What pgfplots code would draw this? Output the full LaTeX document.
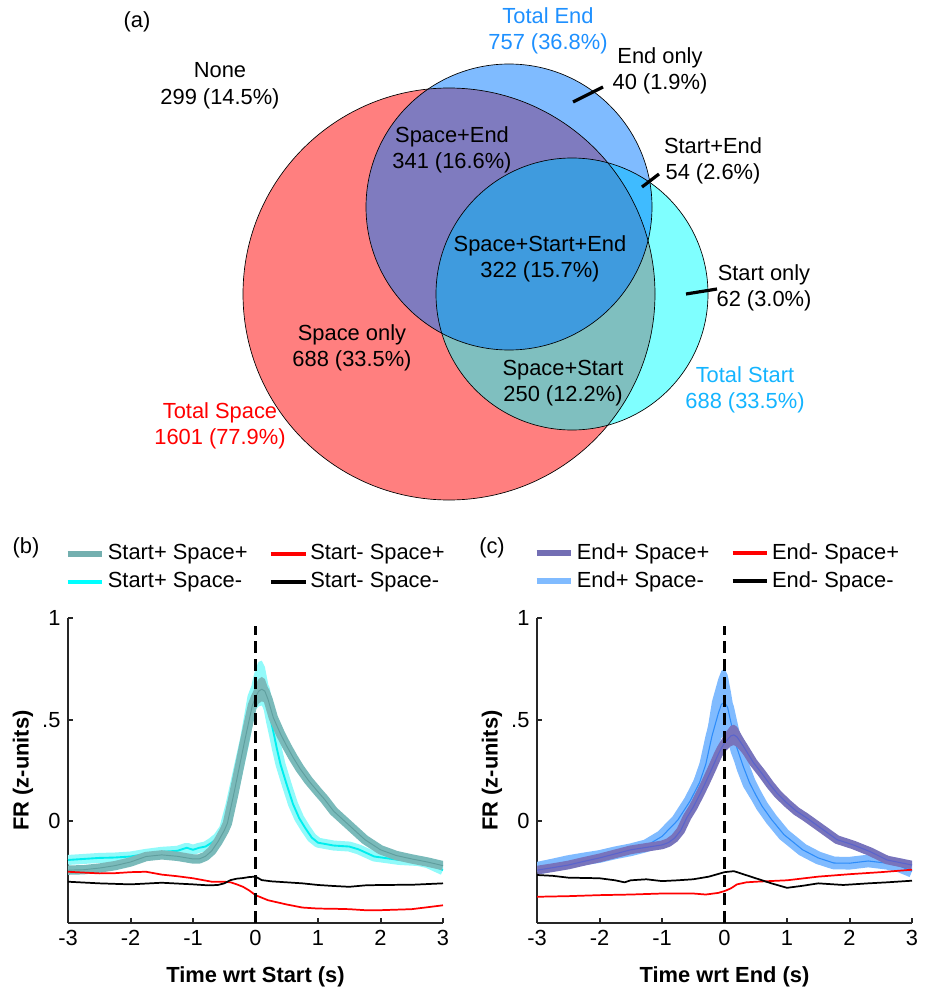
\documentclass[border=0pt]{standalone}
\usepackage{fontspec}
\setmainfont{Liberation Sans}
\usepackage{pgfplots}
\pgfplotsset{compat=1.18}
\usepackage{pgfplotstable}

\definecolor{axgray}{RGB}{38,38,38}
\definecolor{endblue}{RGB}{0,120,255}
\definecolor{startcyan}{RGB}{0,255,255}
\definecolor{totend}{RGB}{30,144,255}
\definecolor{totstart}{RGB}{20,180,255}
\definecolor{tealband}{RGB}{122,186,186}
\definecolor{tealline}{RGB}{95,158,158}
\definecolor{tealleg}{RGB}{115,175,175}
\definecolor{cyanband}{RGB}{145,250,250}
\definecolor{cyanline}{RGB}{0,238,238}
\definecolor{purpband}{RGB}{120,116,188}
\definecolor{purpline}{RGB}{90,100,205}
\definecolor{purpleg}{RGB}{115,110,180}
\definecolor{lbband}{RGB}{128,187,255}
\definecolor{lbline}{RGB}{45,140,250}

% ===== panel (b): Start+ Space+ =====
\pgfplotstableread{
t m
-3 -0.24
-2.75 -0.238
-2.5 -0.23
-2.25 -0.218
-2 -0.2
-1.75 -0.173
-1.5 -0.165
-1.25 -0.172
-1 -0.185
-0.9 -0.185
-0.8 -0.172
-0.7 -0.145
-0.6 -0.1
-0.5 -0.045
-0.45 -0.01
-0.35 0.13
-0.25 0.28
-0.17 0.40
-0.1 0.50
-0.05 0.57
0 0.61
0.05 0.64
0.1 0.65
0.15 0.64
0.2 0.6
0.285 0.51
0.4 0.43
0.5 0.37
0.6 0.315
0.71 0.26
0.85 0.2
1 0.145
1.1 0.11
1.25 0.05
1.5 -0.02
1.75 -0.09
2 -0.14
2.25 -0.168
2.5 -0.185
2.75 -0.2
3 -0.218
}\tabSpSp
\pgfplotstableread{
t v
-0.17 0.43
-0.1 0.54
-0.05 0.62
0 0.67
0.05 0.7
0.1 0.71
0.15 0.70
0.2 0.655
0.285 0.55
0.4 0.46
0.4 0.4
0.285 0.47
0.2 0.545
0.15 0.585
0.1 0.59
0.05 0.58
0 0.55
-0.05 0.52
-0.1 0.46
-0.17 0.37
}\bandSpSp

% ===== panel (b): Start+ Space- =====
\pgfplotstableread{
t m
-3 -0.19
-2.75 -0.185
-2.5 -0.18
-2.25 -0.178
-2 -0.173
-1.75 -0.16
-1.5 -0.15
-1.25 -0.145
-1.1 -0.13
-1 -0.14
-0.9 -0.13
-0.8 -0.124
-0.7 -0.105
-0.6 -0.08
-0.5 -0.035
-0.4 0.08
-0.35 0.15
-0.25 0.29
-0.17 0.4
-0.1 0.52
-0.05 0.61
0 0.65
0.05 0.675
0.1 0.68
0.15 0.65
0.2 0.57
0.25 0.49
0.3 0.42
0.34 0.36
0.4 0.28
0.5 0.18
0.6 0.085
0.7 0.015
0.8 -0.035
0.9 -0.08
1 -0.105
1.25 -0.119
1.5 -0.124
1.65 -0.138
1.9 -0.173
2.3 -0.19
2.6 -0.195
2.75 -0.205
3 -0.24
}\tabSpSm
\pgfplotstableread{
t v
-0.25 0.32
-0.17 0.46
-0.1 0.6
-0.05 0.69
0 0.75
0.05 0.785
0.1 0.79
0.15 0.76
0.2 0.68
0.25 0.57
0.3 0.47
0.4 0.31
0.4 0.25
0.3 0.37
0.25 0.43
0.2 0.48
0.15 0.54
0.1 0.57
0.05 0.565
0 0.55
-0.05 0.53
-0.1 0.46
-0.17 0.36
-0.25 0.26
}\bandSpSm

\pgfplotstableread{
t m
-3 -0.248
-2.5 -0.256
-2.25 -0.255
-2 -0.25
-1.75 -0.248
-1.5 -0.262
-1.25 -0.27
-1 -0.28
-0.7 -0.297
-0.5 -0.297
-0.4 -0.3
-0.3 -0.31
-0.2 -0.322
-0.1 -0.34
0 -0.363
0.2 -0.388
0.5 -0.409
0.75 -0.424
1 -0.429
1.25 -0.43
1.5 -0.432
1.75 -0.437
2 -0.437
2.5 -0.432
3 -0.413
}\tabSmSp

\pgfplotstableread{
t m
-3 -0.297
-2.5 -0.305
-2 -0.31
-1.5 -0.302
-1 -0.31
-0.75 -0.315
-0.6 -0.313
-0.5 -0.305
-0.4 -0.289
-0.3 -0.282
-0.2 -0.279
-0.1 -0.274
0 -0.272
0.1 -0.289
0.25 -0.295
0.5 -0.3
0.75 -0.305
1 -0.313
1.25 -0.318
1.5 -0.322
1.75 -0.315
2 -0.313
2.5 -0.312
3 -0.305
}\tabSmSm

% ===== panel (c): End+ Space+ =====
\pgfplotstableread{
t m
-3 -0.24
-2.75 -0.228
-2.5 -0.215
-2.25 -0.197
-2 -0.18
-1.75 -0.16
-1.5 -0.14
-1.25 -0.128
-1 -0.116
-0.9 -0.105
-0.8 -0.083
-0.7 -0.045
-0.6 0.02
-0.5 0.07
-0.4 0.13
-0.32 0.18
-0.2 0.26
-0.1 0.33
-0.05 0.36
0 0.385
0.1 0.42
0.15 0.425
0.2 0.415
0.3 0.37
0.46 0.29
0.6 0.235
0.73 0.18
0.85 0.135
1 0.09
1.15 0.05
1.3 0.02
1.55 -0.035
1.8 -0.09
2.06 -0.116
2.33 -0.149
2.6 -0.19
3 -0.215
}\tabEpSp
\pgfplotstableread{
t v
-0.2 0.29
-0.1 0.37
0 0.43
0.1 0.47
0.15 0.475
0.2 0.465
0.3 0.41
0.46 0.32
0.46 0.26
0.3 0.33
0.2 0.365
0.15 0.375
0.1 0.37
0 0.34
-0.1 0.29
-0.2 0.23
}\bandEpSp

% ===== panel (c): End+ Space- =====
\pgfplotstableread{
t m
-3 -0.231
-2.75 -0.215
-2.5 -0.198
-2.25 -0.185
-2 -0.173
-1.75 -0.155
-1.5 -0.14
-1.25 -0.12
-1 -0.074
-0.75 0.005
-0.55 0.1
-0.4 0.19
-0.3 0.28
-0.2 0.42
-0.1 0.53
-0.05 0.575
0 0.585
0.05 0.56
0.1 0.49
0.16 0.41
0.2 0.36
0.3 0.27
0.4 0.19
0.5 0.13
0.6 0.075
0.75 0.01
0.95 -0.065
1.25 -0.14
1.5 -0.18
1.75 -0.205
2 -0.206
2.3 -0.195
2.6 -0.206
2.8 -0.22
3 -0.245
}\tabEpSm
\pgfplotstableread{
t v
-0.55 0.16
-0.4 0.27
-0.3 0.40
-0.2 0.59
-0.1 0.70
-0.05 0.74
0 0.75
0.05 0.72
0.1 0.64
0.16 0.53
0.2 0.47
0.3 0.37
0.4 0.26
0.5 0.18
0.5 0.08
0.4 0.12
0.3 0.17
0.2 0.25
0.16 0.29
0.1 0.34
0.05 0.40
0 0.42
-0.05 0.41
-0.1 0.36
-0.2 0.25
-0.3 0.16
-0.4 0.11
-0.55 0.04
}\bandEpSm

\pgfplotstableread{
t m
-3 -0.371
-2.5 -0.368
-2 -0.363
-1.5 -0.36
-1 -0.355
-0.5 -0.355
-0.3 -0.36
-0.1 -0.352
0 -0.343
0.1 -0.33
0.2 -0.31
0.35 -0.3
0.5 -0.297
1 -0.29
1.5 -0.272
2 -0.26
2.5 -0.25
3 -0.238
}\tabEmSp

\pgfplotstableread{
t m
-3 -0.264
-2.75 -0.268
-2.5 -0.277
-2 -0.28
-1.75 -0.29
-1.6 -0.3
-1.5 -0.29
-1.25 -0.285
-1 -0.294
-0.75 -0.29
-0.5 -0.285
-0.25 -0.272
0 -0.25
0.15 -0.245
0.3 -0.26
0.5 -0.28
0.75 -0.305
1 -0.327
1.25 -0.317
1.5 -0.305
1.9 -0.313
2.3 -0.305
2.6 -0.3
3 -0.292
}\tabEmSm

\pgfplotsset{
  panel/.style={
    scale only axis, width=281.25pt, height=228.75pt,
    xmin=-3, xmax=3, ymin=-0.5, ymax=1,
    axis lines*=left,
    axis line style={line width=2pt, color=axgray, -},
    tick align=inside, major tick length=4pt,
    tick style={line width=1.5pt, color=axgray},
    xtick={-3,-2,-1,0,1,2,3}, xticklabels={-3,-2,-1,0,1,2,3},
    ytick={0,0.5,1}, yticklabels={0,.5,1},
    xlabel style={font=\bfseries, at={(axis description cs:0.5,-0.177)}, anchor=center},
    ylabel style={font=\bfseries, at={(axis description cs:-0.12,0.5)}, anchor=center},
    legend columns=2,
    legend image code/.code={\draw[##1] (0pt,0pt) -- (26pt,0pt);},
    legend style={draw=none, fill=none, at={(axis description cs:-0.01,1.079)},
      anchor=south west, inner sep=0pt, row sep=3pt,
      /tikz/every even column/.append style={column sep=14pt},
      nodes={inner sep=2pt}},
    legend cell align=left,
  },
}

\begin{document}
\fontsize{16.4}{20}\selectfont
\begin{tikzpicture}
\path[use as bounding box] (0pt,0pt) rectangle (696.75pt,741pt);

% ---------------- Venn diagram (a) ----------------
\begin{axis}[at={(0pt,0pt)}, anchor=south west, scale only axis,
  width=696.75pt, height=741pt, xmin=0, xmax=929, ymin=0, ymax=988,
  y dir=reverse, hide axis, clip=false]
\addplot[draw=none, forget plot] coordinates {(0,0) (929,988)};
\fill[red, opacity=0.5] (axis cs:449,294) circle[radius=154.5pt];
\fill[startcyan, opacity=0.5] (axis cs:572,294) circle[radius=102pt];
\fill[endblue, opacity=0.5] (axis cs:509,207) circle[radius=107.25pt];
\draw[black, line width=0.5pt] (axis cs:449,294) circle[radius=154.5pt];
\draw[black, line width=0.5pt] (axis cs:572,294) circle[radius=102pt];
\draw[black, line width=0.5pt] (axis cs:509,207) circle[radius=107.25pt];

\node at (axis cs:137,22) {(a)};
\node[align=center] at (axis cs:220,86) {None\\299 (14.5\%)};
\node[align=center, text=totend] at (axis cs:548,31) {Total End\\757 (36.8\%)};
\node[align=center] at (axis cs:660,71) {End only\\40 (1.9\%)};
\node[align=center] at (axis cs:713,161) {Start+End\\54 (2.6\%)};
\node[align=center] at (axis cs:452,150) {Space+End\\341 (16.6\%)};
\node[align=center] at (axis cs:540,259) {Space+Start+End\\322 (15.7\%)};
\node[align=center] at (axis cs:764,288) {Start only\\62 (3.0\%)};
\node[align=center] at (axis cs:352,348) {Space only\\688 (33.5\%)};
\node[align=center] at (axis cs:563,383) {Space+Start\\250 (12.2\%)};
\node[align=center, text=red] at (axis cs:220,426) {Total Space\\1601 (77.9\%)};
\node[align=center, text=totstart] at (axis cs:745,390) {Total Start\\688 (33.5\%)};
\draw[line width=2.4pt] (axis cs:573,102) -- (axis cs:603,87);
\draw[line width=2.4pt] (axis cs:642,187) -- (axis cs:659,174);
\draw[line width=2.4pt] (axis cs:686,294) -- (axis cs:717,289);

\node at (axis cs:26,548) {(b)};
\node at (axis cs:492,548) {(c)};
\end{axis}

% ---------------- panel (b) ----------------
\begin{axis}[panel, at={(51pt,48.75pt)}, anchor=south west,
  xlabel={Time wrt Start (s)}, ylabel={FR (z-units)}]
\addplot[cyanband, fill=cyanband, draw=none, forget plot] table[x=t, y=v] {\bandSpSm};
\addplot[cyanband, line width=7.5pt, line join=round, forget plot] table[x=t, y=m] {\tabSpSm};
\addplot[cyanline, line width=1.4pt, line join=round, forget plot] table[x=t, y=m] {\tabSpSm};
\addplot[tealband, fill=tealband, draw=none, forget plot] table[x=t, y=v] {\bandSpSp};
\addplot[tealband, line width=7pt, line join=round, forget plot] table[x=t, y=m] {\tabSpSp};
\addplot[tealline, line width=0.7pt, line join=round, forget plot] table[x=t, y=m] {\tabSpSp};
\addplot[red, line width=1.3pt, forget plot] table[x=t, y=m] {\tabSmSp};
\addplot[black, line width=1.3pt, forget plot] table[x=t, y=m] {\tabSmSm};
\addplot[black, line width=1.8pt, dash pattern=on 9pt off 4.5pt, forget plot] coordinates {(0,-0.5) (0,0.96)};

\addlegendimage{tealleg, line width=4.5pt}
\addlegendentry{Start+ Space+}
\addlegendimage{red, line width=3pt}
\addlegendentry{Start- Space+}
\addlegendimage{startcyan, line width=3pt}
\addlegendentry{Start+ Space-}
\addlegendimage{black, line width=3pt}
\addlegendentry{Start- Space-}
\end{axis}

% ---------------- panel (c) ----------------
\begin{axis}[panel, at={(402.75pt,48.75pt)}, anchor=south west,
  xlabel={Time wrt End (s)}, ylabel={FR (z-units)}]
\addplot[lbband, fill=lbband, draw=none, forget plot] table[x=t, y=v] {\bandEpSm};
\addplot[lbband, line width=9.5pt, line join=round, forget plot] table[x=t, y=m] {\tabEpSm};
\addplot[lbline, line width=0.8pt, line join=round, forget plot] table[x=t, y=m] {\tabEpSm};
\addplot[purpband, fill=purpband, draw=none, forget plot] table[x=t, y=v] {\bandEpSp};
\addplot[purpband, line width=6.5pt, line join=round, forget plot] table[x=t, y=m] {\tabEpSp};
\addplot[purpline, line width=0.8pt, line join=round, forget plot] table[x=t, y=m] {\tabEpSp};
\addplot[red, line width=1.3pt, forget plot] table[x=t, y=m] {\tabEmSp};
\addplot[black, line width=1.3pt, forget plot] table[x=t, y=m] {\tabEmSm};
\addplot[black, line width=1.8pt, dash pattern=on 9pt off 4.5pt, forget plot] coordinates {(0,-0.5) (0,0.96)};

\addlegendimage{purpleg, line width=4.5pt}
\addlegendentry{End+ Space+}
\addlegendimage{red, line width=3pt}
\addlegendentry{End- Space+}
\addlegendimage{lbband, line width=4.5pt}
\addlegendentry{End+ Space-}
\addlegendimage{black, line width=3pt}
\addlegendentry{End- Space-}
\end{axis}
\end{tikzpicture}
\end{document}
